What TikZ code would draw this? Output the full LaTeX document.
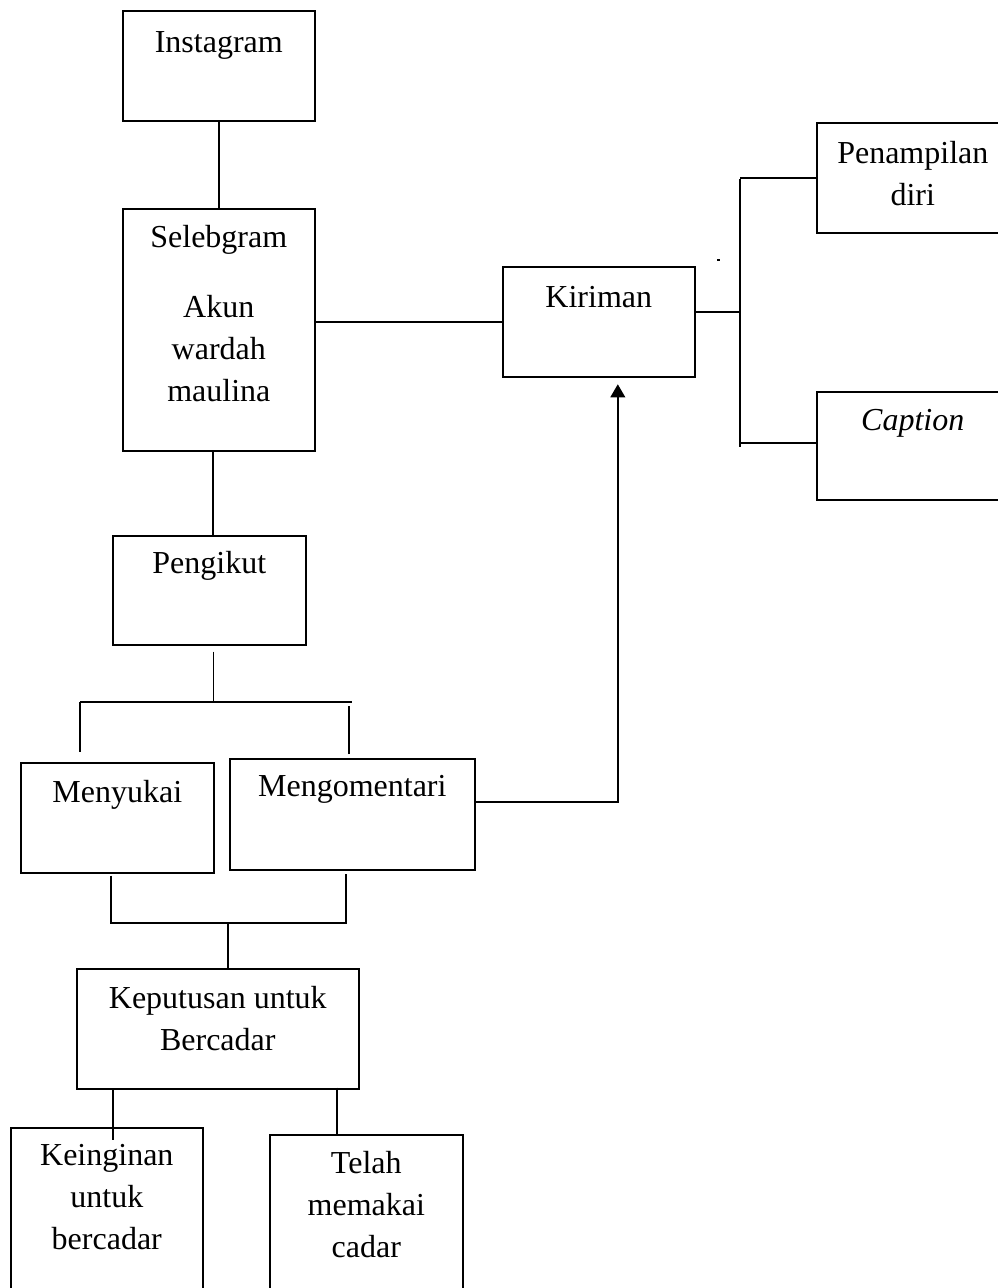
\documentclass[tikz,border=0pt]{standalone}
\usepackage{fontspec}
\setmainfont{Liberation Serif}
\usepackage{tikz}
\usetikzlibrary{arrows.meta,positioning}

% box text: width, height, first baseline, lines
\newcommand{\isikotak}[4]{\parbox[c][#2][t]{#1}{\centering\rule{0pt}{#3}#4}}

\begin{document}
\begin{tikzpicture}[
x=0.75pt,y=-0.75pt,
kotak/.style={
rectangle,
draw=black,
line width=1.2pt,
inner sep=0pt,
anchor=north west,
font=\fontsize{24pt}{31.5pt}\selectfont
},
garis/.style={
line width=1.2pt
},
panah/.style={
garis,
-{Triangle[length=9.75pt,width=11pt]}
}]

\useasboundingbox (0,0) rectangle (998,1288);
\clip (0,0) rectangle (998,1288);

\node [kotak] (instagram) at (122,10) {\isikotak{144pt}{82.5pt}{31.5pt}{Instagram}};
\node [kotak] (selebgram) at (122,208) {\isikotak{144pt}{181.5pt}{29.25pt}{Selebgram\\[21pt]Akun\\wardah\\maulina}};
\node [kotak] (kiriman) at (502,266) {\isikotak{144pt}{82.5pt}{30.75pt}{Kiriman}};
\node [kotak] (penampilan) at (816,122) {\isikotak{144pt}{82.5pt}{30.75pt}{Penampilan\\diri}};
\node [kotak] (caption) at (816,391) {\isikotak{144pt}{81pt}{29.25pt}{\textit{Caption}}};
\node [kotak] (pengikut) at (112,535) {\isikotak{144.75pt}{81.75pt}{28.5pt}{Pengikut}};
\node [kotak] (menyukai) at (20,762) {\isikotak{144.75pt}{82.5pt}{30pt}{Menyukai}};
\node [kotak] (mengomentari) at (229,758) {\isikotak{183.75pt}{83.25pt}{28.5pt}{Mengomentari}};
\node [kotak] (keputusan) at (76,968) {\isikotak{211.5pt}{90pt}{30pt}{Keputusan untuk\\Bercadar}};
\node [kotak] (keinginan) at (10,1127) {\isikotak{144pt}{150pt}{28.5pt}{Keinginan\\untuk\\bercadar}};
\node [kotak] (telah) at (269,1134) {\isikotak{144.75pt}{150pt}{29.25pt}{Telah\\memakai\\cadar}};

\coordinate (tulangatas) at (740,179);
\coordinate (tulangbawah) at (740,447);
\coordinate (kiriatas) at (80,702);
\coordinate (kananatas) at (352,702);
\coordinate (sambung) at (228,923);

\draw[garis] (instagram) -- (selebgram);
\draw[garis] (kiriman.west) -- (kiriman.west -| selebgram.east);
\draw[garis] ([xshift=2.6pt]pengikut.north) -- ([xshift=2.6pt]pengikut.north |- selebgram.south);

\draw[garis] (tulangatas) -- (tulangbawah);
\draw[garis] ([yshift=7.5pt]kiriman.east) -- ([yshift=7.5pt]kiriman.east -| tulangatas);
\draw[garis] (penampilan.west) -- (penampilan.west -| tulangatas);
\draw[garis] ([yshift=2.25pt]caption.west) -- ([yshift=2.25pt]caption.west -| tulangatas);
\fill (717,259) rectangle (720,261);

\draw[garis] (kiriatas) -- (kananatas);
\draw[garis] ([xshift=3pt,yshift=-4.5pt]pengikut.south) -- ([xshift=3pt]pengikut.south |- kiriatas);
\draw[garis] (kiriatas) -- ([yshift=7.5pt]menyukai.north -| kiriatas);
\draw[garis] ([xshift=-2.6pt,yshift=3pt]mengomentari.north) -- ++(0,-48);

\draw[garis] ([xshift=-4.9pt,yshift=-1.5pt]menyukai.south) -- ([xshift=-4.9pt]menyukai.south |- sambung)
  -- ([xshift=-4.9pt]mengomentari.south |- sambung) -- ([xshift=-4.9pt,yshift=-2.25pt]mengomentari.south);
\draw[garis] (sambung) -- (sambung |- keputusan.north);

\draw[garis] ([xshift=-78.75pt]keputusan.south) -- ++(0,50);
\draw[garis] ([xshift=89.25pt,yshift=1.5pt]keputusan.south) -- ([xshift=89.25pt]keputusan.south |- telah.north);

\draw[panah] ([yshift=9.4pt]mengomentari.east) -| ([xshift=14.25pt,yshift=-5pt]kiriman.south);

\end{tikzpicture}
\end{document}
